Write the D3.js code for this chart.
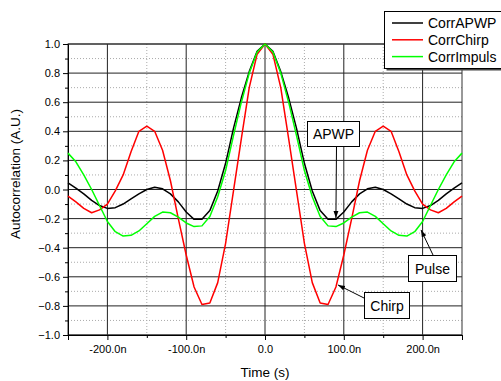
<!DOCTYPE html>
<html><head><meta charset="utf-8">
<script src="https://cdn.jsdelivr.net/npm/d3@7"></script>
<style>body{margin:0;background:#fff}svg{display:block}text{font-family:"Liberation Sans",Arial,sans-serif}</style>
</head><body>
<script>
const times = [-250,-240,-230,-220,-210,-200,-190,-180,-170,-160,-150,-140,-130,-120,-110,-100,-90,-80,-70,-60,-50,-40,-30,-20,-10,0,
  10,20,30,40,50,60,70,80,90,100,110,120,130,140,150,160,170,180,190,200,210,220,230,240,250];
const corrAPWP = [0.045,0.01,-0.03,-0.075,-0.11,-0.13,-0.125,-0.10,-0.065,-0.03,0.0,0.015,0.005,-0.03,-0.085,-0.155,-0.205,-0.205,-0.145,-0.01,0.18,0.42,0.63,0.81,0.95,1.0,
  0.95,0.81,0.63,0.42,0.18,-0.01,-0.145,-0.205,-0.205,-0.155,-0.085,-0.03,0.005,0.015,0.0,-0.03,-0.065,-0.10,-0.125,-0.13,-0.11,-0.075,-0.03,0.01,0.045];
const corrChirp = [-0.045,-0.085,-0.13,-0.16,-0.14,-0.10,-0.01,0.10,0.26,0.40,0.435,0.40,0.27,0.06,-0.20,-0.45,-0.67,-0.79,-0.78,-0.64,-0.37,-0.01,0.35,0.70,0.93,1.0,
  0.93,0.70,0.35,-0.01,-0.37,-0.64,-0.78,-0.79,-0.67,-0.45,-0.20,0.06,0.27,0.40,0.435,0.40,0.26,0.10,-0.01,-0.10,-0.14,-0.16,-0.13,-0.085,-0.045];
const corrImpuls = [0.25,0.19,0.10,0.0,-0.11,-0.22,-0.29,-0.32,-0.315,-0.285,-0.235,-0.185,-0.155,-0.16,-0.19,-0.23,-0.255,-0.25,-0.185,-0.05,0.13,0.37,0.60,0.80,0.945,1.0,
  0.945,0.80,0.60,0.37,0.13,-0.05,-0.185,-0.25,-0.255,-0.23,-0.19,-0.16,-0.155,-0.185,-0.235,-0.285,-0.315,-0.32,-0.29,-0.22,-0.11,0.0,0.10,0.19,0.25];
const seriesNames = ["CorrAPWP","CorrChirp","CorrImpuls"];
const seriesColors = ["#000000","#ff0000","#00ff00"];
const xMajorTicks = [-200,-100,0,100,200];
const xTickLabels = ["-200.0n","-100.0n","0.0","100.0n","200.0n"];
const xMinorTicks = [-250,-150,-50,50,150,250];
const yMajorTicks = [1.0,0.8,0.6,0.4,0.2,0.0,-0.2,-0.4,-0.6,-0.8,-1.0];
const yMinorTicks = [0.9,0.7,0.5,0.3,0.1,-0.1,-0.3,-0.5,-0.7,-0.9];
const annotations = [
  {label:"APWP", box:[307,121,52,25], from:[336.5,146], tip:[90,-0.196]},
  {label:"Pulse", box:[408,255,48,26], from:[433,255], tip:[198,-0.278]},
  {label:"Chirp", box:[364,292,45,26], from:[364,298], tip:[92.6,-0.656]}
];

const W=501,H=381;
const L=68,R=462,T=44,B=335;
const svg=d3.select("body").append("svg").attr("width",W).attr("height",H);
const x=d3.scaleLinear().domain([-250,250]).range([L,R]);
const y=d3.scaleLinear().domain([-1,1]).range([B,T]);

svg.append("defs").append("marker").attr("id","ah").attr("viewBox","0 0 10 10")
  .attr("refX",10).attr("refY",5).attr("markerWidth",7).attr("markerHeight",7)
  .attr("orient","auto").attr("markerUnits","userSpaceOnUse")
  .append("path").attr("d","M0,1.5L10,5L0,8.5Z").attr("fill","#000");

const g=svg.append("g");
// minor grid
g.selectAll(".mgx").data(xMinorTicks.filter(d=>d>-250&&d<250)).join("line")
  .attr("x1",d=>x(d)).attr("x2",d=>x(d)).attr("y1",T).attr("y2",B)
  .attr("stroke","#aaa").attr("stroke-dasharray","1,2");
g.selectAll(".mgy").data(yMinorTicks).join("line")
  .attr("x1",L).attr("x2",R).attr("y1",d=>y(d)).attr("y2",d=>y(d))
  .attr("stroke","#aaa").attr("stroke-dasharray","1,2");
// major grid
g.selectAll(".Mgx").data(xMajorTicks).join("line")
  .attr("x1",d=>x(d)).attr("x2",d=>x(d)).attr("y1",T).attr("y2",B)
  .attr("stroke","#222").attr("stroke-width",1);
g.selectAll(".Mgy").data(yMajorTicks).join("line")
  .attr("x1",L).attr("x2",R).attr("y1",d=>y(d)).attr("y2",d=>y(d))
  .attr("stroke","#222").attr("stroke-width",1);
// frame
g.append("rect").attr("x",L).attr("y",T).attr("width",R-L).attr("height",B-T)
  .attr("fill","none").attr("stroke","#333").attr("stroke-width",1);

// axes
const xAxis=d3.axisBottom(x).tickValues(xMajorTicks).tickSize(5).tickPadding(5)
  .tickFormat((d,i)=>xTickLabels[i]);
const gx=svg.append("g").attr("transform",`translate(0,${B})`).call(xAxis);
gx.select(".domain").attr("stroke","#000");
gx.selectAll("text").attr("font-size",11).attr("fill","#000").attr("font-family","Liberation Sans, Arial");
const xMin=d3.axisBottom(x).tickValues(xMinorTicks).tickSize(3).tickFormat("");
svg.append("g").attr("transform",`translate(0,${B})`).call(xMin).select(".domain").remove();

const yAxis=d3.axisLeft(y).tickValues(yMajorTicks).tickSize(5).tickPadding(3)
  .tickFormat(d3.format(".1f"));
const gy=svg.append("g").attr("transform",`translate(${L},0)`).call(yAxis);
gy.select(".domain").attr("stroke","#000");
gy.selectAll("text").attr("font-size",11).attr("fill","#000").attr("font-family","Liberation Sans, Arial");
const yMin=d3.axisLeft(y).tickValues(yMinorTicks).tickSize(3).tickFormat("");
svg.append("g").attr("transform",`translate(${L},0)`).call(yMin).select(".domain").remove();

// lines
const allSeries=[corrAPWP,corrChirp,corrImpuls];
const line=d3.line().x((d,i)=>x(times[i])).y(d=>y(d));
allSeries.forEach((s,k)=>{
  svg.append("path").datum(s).attr("d",line).attr("fill","none")
    .attr("stroke",seriesColors[k]).attr("stroke-width",1.5).attr("stroke-linejoin","round");
});

// titles
svg.append("text").attr("x",265).attr("y",377).attr("text-anchor","middle")
  .attr("font-size",13.5).text("Time (s)");
svg.append("text").attr("transform","translate(20,174) rotate(-90)").attr("text-anchor","middle")
  .attr("font-size",13.5).text("Autocorrelation (A.U.)");

// annotations
annotations.forEach(a=>{
  svg.append("line").attr("x1",a.from[0]).attr("y1",a.from[1])
    .attr("x2",x(a.tip[0])).attr("y2",y(a.tip[1]))
    .attr("stroke","#000").attr("stroke-width",1).attr("marker-end","url(#ah)");
  svg.append("rect").attr("x",a.box[0]+0.5).attr("y",a.box[1]+0.5)
    .attr("width",a.box[2]).attr("height",a.box[3]).attr("fill","#fff")
    .attr("stroke","#000").attr("stroke-width",1);
  svg.append("text").attr("x",a.box[0]+a.box[2]/2+0.5).attr("y",a.box[1]+a.box[3]/2+5.5)
    .attr("text-anchor","middle").attr("font-size",14).text(a.label);
});

// legend
const lg=svg.append("g");
lg.append("rect").attr("x",386.5).attr("y",13.5).attr("width",130).attr("height",57).attr("fill","#444");
lg.append("rect").attr("x",384.5).attr("y",11.5).attr("width",130).attr("height",57)
  .attr("fill","#fff").attr("stroke","#000").attr("stroke-width",1);
seriesNames.forEach((n,i)=>{
  const yy=23+i*16.8;
  lg.append("line").attr("x1",392).attr("x2",423).attr("y1",yy).attr("y2",yy)
    .attr("stroke",seriesColors[i]).attr("stroke-width",1.5);
  lg.append("text").attr("x",428).attr("y",yy+5).attr("font-size",14).text(n);
});
</script>
</body></html>
